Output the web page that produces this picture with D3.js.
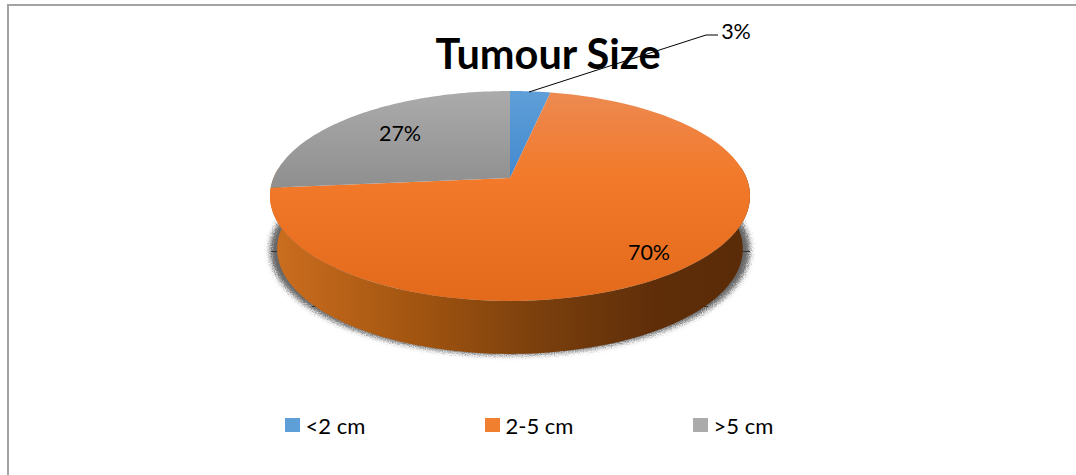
<!DOCTYPE html>
<html>
<head>
<meta charset="utf-8">
<script src="https://cdn.jsdelivr.net/npm/d3@7/dist/d3.min.js"></script>
<style>
  html, body { margin: 0; padding: 0; background: #fff; }
  svg { display: block; }
  text { font-family: Lato, "Open Sans", sans-serif; fill: #000; }
</style>
</head>
<body>
<div id="chart"></div>
<script>
'use strict';

var categories = ['<2 cm', '2-5 cm', '>5 cm'];
var values = [3.2, 70.3, 26.5];
var labels = ['3%', '70%', '27%'];
var title = 'Tumour Size';

var width = 1076, height = 475;

var svg = d3.select('#chart').append('svg')
  .attr('width', width)
  .attr('height', height);

var defs = svg.append('defs');

function vGrad(id, stops, x1, y1, x2, y2) {
  var g = defs.append('linearGradient').attr('id', id)
    .attr('gradientUnits', 'userSpaceOnUse')
    .attr('x1', x1).attr('y1', y1).attr('x2', x2).attr('y2', y2);
  stops.forEach(function(s) {
    g.append('stop').attr('offset', s[0]).attr('stop-color', s[1]);
  });
}

vGrad('topBlue', [[0, '#5f9fd8'], [1, '#4389cf']], 0, 91, 0, 178);
vGrad('topOrange', [[0, '#ec8b52'], [0.18, '#ef8240'], [0.4, '#f27a2a'], [1, '#e3691b']], 0, 91, 0, 301);
vGrad('topGrey', [[0, '#ababab'], [1, '#8e8e8e']], 0, 91, 0, 190);
vGrad('wall', [[0, '#cc6e1f'], [0.3, '#a25510'], [0.55, '#7c400d'], [0.8, '#5f2e09'], [1, '#5a2b08']], 271, 0, 750, 0);
vGrad('legBlue', [[0, '#5f9fd8'], [1, '#4389cf']], 0, 418, 0, 432);
vGrad('legOrange', [[0, '#f08030'], [1, '#ea6e1e']], 0, 418, 0, 432);
vGrad('legGrey', [[0, '#ababab'], [1, '#939393']], 0, 418, 0, 432);

// speckled soft shadow: blur, then scatter the edge with noise
var soft = defs.append('filter').attr('id', 'soft')
  .attr('x', '-10%').attr('y', '-10%').attr('width', '120%').attr('height', '120%');
soft.append('feGaussianBlur').attr('in', 'SourceGraphic').attr('stdDeviation', 2.5).attr('result', 'b');
soft.append('feTurbulence').attr('type', 'fractalNoise').attr('baseFrequency', 0.9)
  .attr('numOctaves', 2).attr('seed', 3).attr('result', 'n');
soft.append('feDisplacementMap').attr('in', 'b').attr('in2', 'n').attr('scale', 6)
  .attr('xChannelSelector', 'R').attr('yChannelSelector', 'G');

// chart frame
svg.append('path')
  .attr('d', 'M8 475V5H1076')
  .attr('fill', 'none')
  .attr('stroke', '#a3a3a3')
  .attr('stroke-width', 2);

// perspective projection of the pie disc
var cx = 510, cy = 178, bx = 236.5, ay = 101.9, k = 0.171, depth = 53;

function project(a, drop) {
  var u = Math.sin(a), v = Math.cos(a), w = 1 + k * v;
  return [cx + bx * u / w, cy - ay * v / w + (drop || 0)];
}

var pie = d3.pie().sort(null).value(function(d) { return d; });
var arcs = pie(values);
var line = d3.line();

function slicePath(d) {
  var pts = [[cx, cy]];
  d3.range(0, 81).forEach(function(i) {
    pts.push(project(d.startAngle + (d.endAngle - d.startAngle) * i / 80));
  });
  return line(pts) + 'Z';
}

// side wall: front half of the rim, top edge and dropped edge
function wallPoints(drop, shrink) {
  return d3.range(0, 121).map(function(i) {
    var a = Math.PI * 0.5 - 0.1 + (Math.PI + 0.2) * i / 120;
    var p = project(a, drop);
    return [cx + (p[0] - cx) * shrink, p[1]];
  });
}

var wallBottom = wallPoints(depth, 0.97);
var wallTop = wallPoints(0, 1).reverse();

// shadow under the disc
svg.append('path')
  .attr('d', line(wallPoints(depth + 1, 1).concat(wallPoints(0, 0.98).reverse())) + 'Z')
  .attr('fill', '#666')
  .attr('filter', 'url(#soft)');

// thin dark ticks left in the shadow
var shadowTicks = [[271, 277, 251], [743, 750, 251], [312, 320, 306], [698, 708, 306]];
svg.selectAll('line.shadowTick')
  .data(shadowTicks)
  .enter().append('line')
  .attr('class', 'shadowTick')
  .attr('x1', function(d) { return d[0]; })
  .attr('x2', function(d) { return d[1]; })
  .attr('y1', function(d) { return d[2] + 0.5; })
  .attr('y2', function(d) { return d[2] + 0.5; })
  .attr('stroke', '#333')
  .attr('stroke-width', 1);

svg.append('path')
  .attr('d', line(wallBottom.concat(wallTop)) + 'Z')
  .attr('fill', 'url(#wall)');

var fills = ['url(#topBlue)', 'url(#topOrange)', 'url(#topGrey)'];
var legendFills = ['url(#legBlue)', 'url(#legOrange)', 'url(#legGrey)'];

svg.selectAll('path.slice')
  .data(arcs)
  .enter().append('path')
  .attr('class', 'slice')
  .attr('d', slicePath)
  .attr('fill', function(d, i) { return fills[i]; });

// title sits above the slices, leader line on top of it
svg.append('text')
  .attr('x', 548).attr('y', 68.5)
  .attr('text-anchor', 'middle')
  .attr('font-size', 41.5)
  .attr('font-weight', 700)
  .text(title);

svg.append('path')
  .attr('d', 'M529 92L706 35H718')
  .attr('fill', 'none')
  .attr('stroke', '#000')
  .attr('stroke-width', 1);

var labelPos = [[736, 31], [649, 252], [400, 133]];
svg.selectAll('text.lbl')
  .data(labels)
  .enter().append('text')
  .attr('class', 'lbl')
  .attr('x', function(d, i) { return labelPos[i][0]; })
  .attr('y', function(d, i) { return labelPos[i][1]; })
  .attr('dy', '0.35em')
  .attr('text-anchor', 'middle')
  .attr('font-size', 21.5)
  .text(function(d) { return d; });

// legend
var legendX = [285, 485, 693];
var legend = svg.selectAll('g.legend')
  .data(categories)
  .enter().append('g')
  .attr('class', 'legend')
  .attr('transform', function(d, i) { return 'translate(' + legendX[i] + ',418)'; });

legend.append('rect')
  .attr('width', 15).attr('height', 14)
  .attr('fill', function(d, i) { return legendFills[i]; });

legend.append('text')
  .attr('x', 20.5).attr('y', 8.5)
  .attr('dy', '0.35em')
  .attr('font-size', 22)
  .text(function(d) { return d; });
</script>
</body>
</html>
